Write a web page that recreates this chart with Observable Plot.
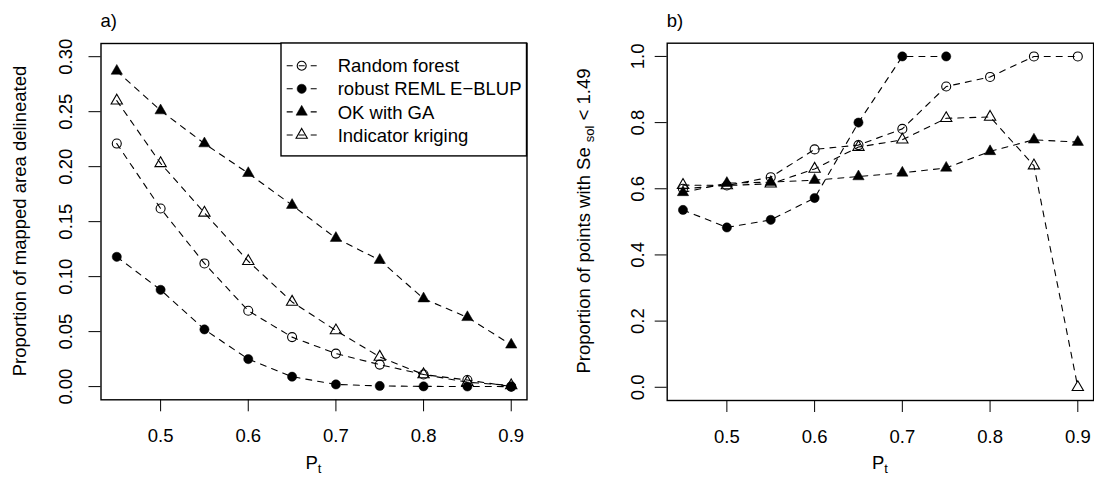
<!DOCTYPE html>
<html><head><meta charset="utf-8">
<script src="https://cdn.jsdelivr.net/npm/d3@7"></script>
<script src="https://cdn.jsdelivr.net/npm/@observablehq/plot@0.6"></script>
<style>
html,body{margin:0;padding:0;background:#fff;}
#wrap{position:relative;width:1094px;height:487px;overflow:hidden;background:#fff;}
#wrap svg{position:absolute;top:0;max-width:none;}
</style></head><body><div id="wrap"></div>
<script>
// ---- data ----
const pt = [0.45, 0.50, 0.55, 0.60, 0.65, 0.70, 0.75, 0.80, 0.85, 0.90];
const seriesNames = ["Random forest", "robust REML E\u2212BLUP", "OK with GA", "Indicator kriging"];
const seriesSymbols = ["circle", "circle", "triangle", "triangle"];
const seriesFilled = [false, true, true, false];

// panel a) proportion of mapped area delineated
const areaRF   = [0.221, 0.162, 0.112, 0.069, 0.045, 0.030, 0.020, 0.011, 0.006, 0.000];
const areaREML = [0.118, 0.088, 0.052, 0.025, 0.009, 0.002, 0.0006, 0.0002, 0.0001, 0.000];
const areaOK   = [0.287, 0.251, 0.221, 0.194, 0.165, 0.135, 0.115, 0.080, 0.063, 0.038];
const areaIK   = [0.260, 0.203, 0.158, 0.114, 0.077, 0.051, 0.027, 0.011, 0.004, 0.001];

// panel b) proportion of points with Se_sol < 1.49
const propRF   = [0.600, 0.610, 0.635, 0.719, 0.732, 0.781, 0.909, 0.938, 1.000, 1.000];
const propREML = [0.536, 0.483, 0.506, 0.572, 0.800, 1.000, 1.000, null, null, null];
const propOK   = [0.589, 0.617, 0.620, 0.626, 0.637, 0.648, 0.663, 0.713, 0.748, 0.741];
const propIK   = [0.611, 0.610, 0.615, 0.660, 0.726, 0.748, 0.813, 0.817, 0.670, 0.000];

const xTicks = [0.5, 0.6, 0.7, 0.8, 0.9];
const yTicksA = [0.00, 0.05, 0.10, 0.15, 0.20, 0.25, 0.30];
const yTicksB = [0.0, 0.2, 0.4, 0.6, 0.8, 1.0];

// ---- style ----
const FONT = "'Liberation Sans', Arial, Helvetica, sans-serif";
const FS = 18.5;
const DASH = "6,6";
const rFor = (sym, fill) => sym === "triangle" ? 4.2 : (fill ? 4.6 : 4.5);

function makePanel({values, yDomain, yTicks, yFmt, ml, mr, mt, mb, ytp}) {
  const marks = [];
  values.forEach((vals, k) => {
    const data = pt.map((x, i) => ({x, y: vals[i]}));
    marks.push(Plot.line(data, {x: "x", y: "y", stroke: "#000", strokeWidth: 1.1, strokeDasharray: DASH}));
    marks.push(Plot.dot(data.filter(d => d.y != null), {
      x: "x", y: "y", symbol: seriesSymbols[k], r: rFor(seriesSymbols[k], seriesFilled[k]),
      fill: seriesFilled[k] ? "#000" : "none", stroke: "#000", strokeWidth: seriesFilled[k] ? 0.5 : 1.1
    }));
  });
  marks.push(Plot.axisX(xTicks, {tickSize: 12, tickPadding: 17.3, tickFormat: d => d.toFixed(1), label: null}));
  marks.push(Plot.axisY(yTicks, {tickSize: 12, tickPadding: ytp, tickRotate: -90, tickFormat: yFmt, label: null}));
  marks.push(Plot.frame({stroke: "#000", strokeWidth: 1.4}));
  return Plot.plot({
    width: 547, height: 487,
    marginLeft: ml, marginRight: mr, marginTop: mt, marginBottom: mb,
    x: {domain: [0.432, 0.918]},
    y: {domain: yDomain},
    style: {fontFamily: FONT, fontSize: FS + "px", color: "#000", background: "transparent", overflow: "visible"},
    marks
  });
}

const wrap = document.getElementById("wrap");

const svgA = makePanel({
  values: [areaRF, areaREML, areaOK, areaIK], yDomain: [-0.012, 0.312], yTicks: yTicksA,
  yFmt: d => d.toFixed(2), ml: 100.5, mr: 20.5, mt: 43, mb: 87.7, ytp: 17
});
svgA.style.left = "0px";
wrap.appendChild(svgA);

const svgB = makePanel({
  values: [propRF, propREML, propOK, propIK], yDomain: [-0.04, 1.04], yTicks: yTicksB,
  yFmt: d => d.toFixed(1), ml: 119.7, mr: 0.9, mt: 42.7, mb: 87, ytp: 11
});
svgB.style.left = "547px";
wrap.appendChild(svgB);

function addText(svg, x, y, rot, anchor, parts) {
  const t = d3.select(svg).append("text")
    .attr("transform", `translate(${x},${y})` + (rot ? ` rotate(${rot})` : ""))
    .attr("text-anchor", anchor).attr("font-family", FONT).attr("font-size", FS).attr("fill", "#000");
  parts.forEach(p => {
    const s = t.append("tspan").text(p.text);
    if (p.size) s.attr("font-size", p.size);
    if (p.dy) s.attr("dy", p.dy);
  });
  return t;
}

// panel a labels
addText(svgA, 100.5, 27, 0, "start", [{text: "a)"}]);
addText(svgA, 25.5, 221, -90, "middle", [{text: "Proportion of mapped area delineated"}]);
addText(svgA, 313.5, 469, 0, "middle", [{text: "P"}, {text: "t", size: 13, dy: 4}]);

// panel b labels
addText(svgB, 119.7, 27, 0, "start", [{text: "b)"}]);
addText(svgB, 43, 221, -90, "middle", [
  {text: "Proportion of points with Se "}, {text: "sol", size: 13, dy: 4}, {text: " < 1.49", dy: -4}
]);
addText(svgB, 333, 469, 0, "middle", [{text: "P"}, {text: "t", size: 13, dy: 4}]);

// legend in panel a
(function legend() {
  const g = d3.select(svgA).append("g");
  const x0 = 281, y0 = 43, x1 = 526.5, y1 = 155.9;
  g.append("rect").attr("x", x0).attr("y", y0).attr("width", x1 - x0).attr("height", y1 - y0)
    .attr("fill", "#fff").attr("stroke", "#000").attr("stroke-width", 1.4);
  seriesNames.forEach((name, k) => {
    const cy = 65.7 + k * 23.1;
    g.append("line").attr("x1", 286.7).attr("x2", 316.7).attr("y1", cy).attr("y2", cy)
      .attr("stroke", "#000").attr("stroke-width", 1.1).attr("stroke-dasharray", DASH);
    const r = rFor(seriesSymbols[k], seriesFilled[k]);
    const sym = seriesSymbols[k] === "triangle" ? d3.symbolTriangle : d3.symbolCircle;
    g.append("path").attr("d", d3.symbol(sym, Math.PI * r * r)())
      .attr("transform", `translate(301.7,${cy})`)
      .attr("fill", seriesFilled[k] ? "#000" : "none").attr("stroke", "#000")
      .attr("stroke-width", seriesFilled[k] ? 0.5 : 1.1);
    g.append("text").attr("x", 337.7).attr("y", cy + 6.6).attr("text-anchor", "start")
      .attr("font-family", FONT).attr("font-size", FS).attr("fill", "#000").text(name);
  });
})();
</script></body></html>
